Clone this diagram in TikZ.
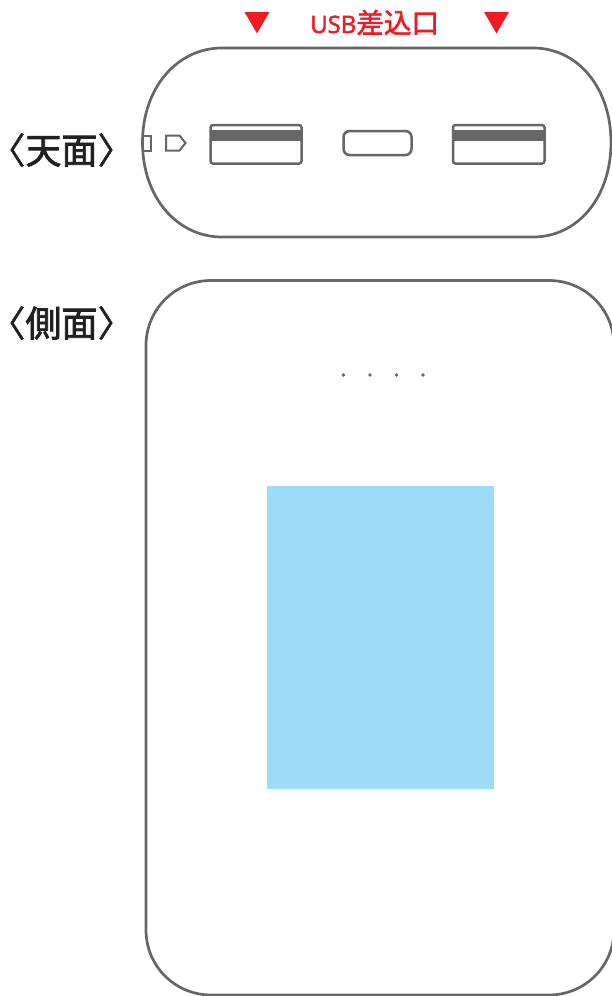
\documentclass[tikz,border=0pt]{standalone}
\usepackage{fontspec}
\newfontfamily\cjk[FakeBold=2]{Noto Sans CJK JP}
\newfontfamily\cjkp[FakeBold=1,RawFeature=+palt]{Noto Sans CJK JP}
\newfontfamily\cjkred[FakeBold=2]{Noto Sans CJK JP}
\newfontfamily\usbfont[FakeBold=2]{Open Sans}
\definecolor{edge}{HTML}{666666}
\definecolor{ink}{HTML}{231F20}
\definecolor{alert}{HTML}{ED1C24}
\definecolor{panel}{HTML}{9CDCF9}
\tikzset{
  body/.style={draw=edge,line width=2.7pt},
  port/.style={draw=edge,line width=2.5pt,fill=white,rounded corners=2.5pt},
  slot/.style={draw=edge,line width=2.5pt,fill=white,rounded corners=6pt},
  tick/.style={draw=edge,line width=2pt},
  tri/.style={fill=alert,draw=none},
  lab/.style={font=\fontsize{36}{36}\selectfont,text=ink,inner sep=0pt,anchor=center},
  red/.style={text=alert,inner sep=0pt,anchor=center},
  led/.style={circle,fill=edge,draw=none,minimum size=3.6pt,inner sep=0pt}
}
\begin{document}
\begin{tikzpicture}[x=1pt,y=-1pt]
\useasboundingbox[fill=white] (0,0) rectangle (612,996);
\begin{scope}
\clip (0,0) rectangle (612,996);
% top view
\draw[body] (222,48) -- (533,48) .. controls (578,48) and (611,88) .. (611,142.5) .. controls (611,197) and (578,237) .. (533,237) -- (222,237) .. controls (177,237) and (142.5,197) .. (142.5,142.5) .. controls (142.5,88) and (177,48) .. (222,48) -- cycle;
% side view
\draw[body] (211,280.5) -- (549,280.5) .. controls (585,280.5) and (614,309.5) .. (614,345.5) -- (614,930) .. controls (614,966) and (585,995) .. (549,995) -- (211,995) .. controls (175,995) and (146,966) .. (146,930) -- (146,345.5) .. controls (146,309.5) and (175,280.5) .. (211,280.5) -- cycle;
\end{scope}
% small marks
\draw[tick] (143,135.5) -- (150.5,135.5) -- (150.5,150.5) -- (143,150.5);
\draw[tick] (166,135.5) -- (179.5,135.5) -- (185.5,143) -- (179.5,150.5) -- (166,150.5) -- cycle;
% USB ports
\draw[port] (210.5,125) rectangle (301.5,163.5);
\fill[edge] (210.5,130) rectangle (301.5,141);
\draw[slot] (343.5,131) rectangle (411.5,155);
\draw[port] (453,125) rectangle (544.5,163.5);
\fill[edge] (453,130) rectangle (544.5,141);
% arrows
\fill[tri] (244.5,12) -- (269.5,12) -- (257,33.5) -- cycle;
\fill[tri] (484,12) -- (509,12) -- (496.5,33.5) -- cycle;
% texts
\node[lab] (top) at (61.5,150) {{\cjkp 〈}\kern1pt{\cjk 天面}\kern1pt{\cjkp 〉}};
\node[lab] (side) at (61.5,323) {{\cjkp 〈}\kern1pt{\cjk 側面}\kern1pt{\cjkp 〉}};
\node[red,anchor=west] (usb) at (310,22.5) {\usbfont\fontsize{24}{24}\selectfont USB\cjkred\fontsize{27.5}{27.5}\selectfont 差込口};
% LEDs
\foreach \n/\x in {a/343.5,b/370,c/396.5,d/423} \node[led] (\n) at (\x,375) {};
% panel
\fill[panel] (267,486) rectangle (494,789);
\end{tikzpicture}
\end{document}
